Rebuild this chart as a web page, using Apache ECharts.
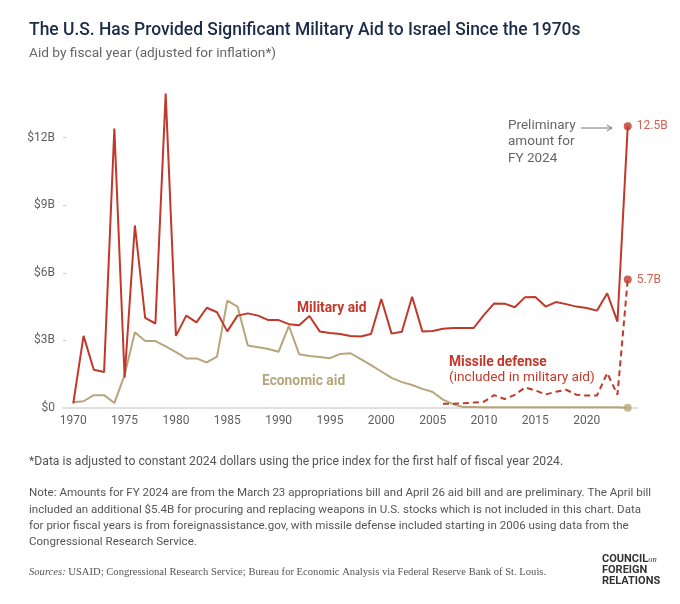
<!DOCTYPE html>
<html>
<head>
<meta charset="utf-8">
<script src="https://cdn.jsdelivr.net/npm/echarts@6/dist/echarts.min.js"></script>
<style>
  html, body { margin: 0; padding: 0; background: #fff; }
  #chart { width: 680px; height: 604px; }
</style>
</head>
<body>
<div id="chart"></div>
<script>
// fiscal years shown on the chart
const years = [];
for (let y = 1970; y <= 2024; y++) years.push(y);

// military aid, $B (constant 2024 dollars)
const military = [
  0.2, 3.2, 1.7, 1.6, 12.4, 1.35, 8.1, 4.0, 3.75, 13.95,
  3.2, 4.1, 3.8, 4.45, 4.25, 3.4, 4.1, 4.2, 4.1, 3.9,
  3.9, 3.72, 3.67, 4.08, 3.4, 3.33, 3.28, 3.2, 3.17, 3.28,
  4.84, 3.3, 3.38, 4.94, 3.4, 3.42, 3.52, 3.55, 3.55, 3.55,
  4.13, 4.64, 4.63, 4.47, 4.92, 4.93, 4.5, 4.7, 4.61, 4.5,
  4.44, 4.32, 5.09, 3.83, 12.5
];

// economic aid, $B
const economic = [
  0.25, 0.3, 0.57, 0.57, 0.22, 1.47, 3.36, 2.97, 2.97, 2.73,
  2.48, 2.2, 2.2, 2.02, 2.28, 4.76, 4.5, 2.77, 2.7, 2.62,
  2.5, 3.64, 2.39, 2.31, 2.26, 2.21, 2.4, 2.43, 2.17, 1.9,
  1.62, 1.34, 1.15, 1.02, 0.85, 0.71, 0.37, 0.17, 0.04, 0.04,
  0.03, 0.03, 0.03, 0.03, 0.03, 0.03, 0.03, 0.03, 0.03, 0.03,
  0.03, 0.03, 0.03, 0.03, 0.01
];

// missile defense (included in military aid), from 2006
const missileYears = [];
for (let y = 2006; y <= 2024; y++) missileYears.push(y);
const missile = [
  0.19, 0.19, 0.21, 0.24, 0.28, 0.57, 0.4, 0.58, 0.91, 0.78,
  0.6, 0.72, 0.81, 0.59, 0.55, 0.55, 1.55, 0.59, 5.7
];

const xTicks = [1970, 1975, 1980, 1985, 1990, 1995, 2000, 2005, 2010, 2015, 2020];
const yTicks = [0, 3, 6, 9, 12];
const yTickLabels = ['$0', '$3B', '$6B', '$9B', '$12B'];

const RED = '#C0392B';
const TAN = '#B7A67B';
const GRAY = '#5f5f5f';
const FONT = 'Roboto, "Noto Sans", sans-serif';

const pairs = (xs, vs) => xs.map((x, i) => [x, vs[i]]);
const last = (xs, vs) => [xs[xs.length - 1], vs[vs.length - 1]];

const chart = echarts.init(document.getElementById('chart'), null, { renderer: 'canvas' });

chart.setOption({
  backgroundColor: '#fff',
  animation: false,
  textStyle: { fontFamily: FONT },
  grid: { left: 63, right: 42, top: 70, bottom: 196 },
  xAxis: {
    type: 'value',
    min: 1969,
    max: 2025,
    splitLine: { show: false },
    axisLine: { show: true, lineStyle: { color: '#d6d6d6', width: 1.5 } },
    axisTick: { show: false },
    axisLabel: {
      customValues: xTicks,
      color: GRAY,
      fontSize: 12,
      margin: 7,
      fontFamily: FONT,
      formatter: v => String(v)
    }
  },
  yAxis: {
    type: 'value',
    min: 0,
    max: 15,
    splitLine: { show: false },
    axisLine: { show: false },
    axisTick: {
      show: true,
      inside: true,
      length: 3,
      customValues: yTicks.slice(1),
      lineStyle: { color: '#c8c8c8' }
    },
    axisLabel: {
      customValues: yTicks,
      color: GRAY,
      fontSize: 12,
      margin: 8,
      fontFamily: FONT,
      formatter: v => yTickLabels[yTicks.indexOf(v)]
    }
  },
  series: [
    {
      name: 'Economic aid',
      type: 'line',
      data: pairs(years, economic),
      symbol: 'none',
      lineStyle: { color: TAN, width: 2 },
      z: 2
    },
    {
      name: 'Missile defense',
      type: 'line',
      data: pairs(missileYears, missile),
      symbol: 'none',
      lineStyle: { color: RED, width: 2, type: [6, 4] },
      z: 3
    },
    {
      name: 'Military aid',
      type: 'line',
      data: pairs(years, military),
      symbol: 'none',
      lineStyle: { color: RED, width: 2 },
      z: 4
    },
    {
      name: 'FY 2024',
      type: 'scatter',
      symbol: 'circle',
      symbolSize: 8,
      z: 5,
      data: [
        { value: last(years, military), itemStyle: { color: RED },
          label: { show: true, position: 'right', distance: 5, color: RED, fontSize: 12,
                   formatter: p => p.value[1] + 'B' } },
        { value: last(missileYears, missile), itemStyle: { color: RED },
          label: { show: true, position: 'right', distance: 5, color: RED, fontSize: 12,
                   formatter: p => p.value[1] + 'B' } },
        { value: last(years, economic), itemStyle: { color: TAN } }
      ]
    }
  ],
  graphic: [
    { type: 'text', x: 29, y: 31, style: { text: 'The U.S. Has Provided Significant Military Aid to Israel Since the 1970s',
      fill: '#1c2b48', font: '500 17.45px ' + FONT, verticalAlign: 'middle' } },
    { type: 'text', x: 29, y: 54, style: { text: 'Aid by fiscal year (adjusted for inflation*)',
      fill: '#666', font: '13.7px ' + FONT, verticalAlign: 'middle' } },

    { type: 'text', x: 297, y: 309, style: { text: 'Military aid', fill: RED,
      font: 'bold 13.8px ' + FONT, verticalAlign: 'middle' } },
    { type: 'text', x: 262, y: 382, style: { text: 'Economic aid', fill: TAN,
      font: 'bold 13.8px ' + FONT, verticalAlign: 'middle' } },
    { type: 'text', x: 449, y: 363, style: { text: 'Missile defense', fill: RED,
      font: 'bold 13.8px ' + FONT, verticalAlign: 'middle' } },
    { type: 'text', x: 449, y: 378, style: { text: '(included in military aid)', fill: RED,
      font: '13.7px ' + FONT, verticalAlign: 'middle' } },

    { type: 'text', x: 508, y: 117, style: { text: 'Preliminary\namount for\nFY 2024', fill: '#666',
      font: '13.5px ' + FONT, lineHeight: 16.5, verticalAlign: 'top' } },
    { type: 'polyline', shape: { points: [[581, 128], [612, 128]] }, style: { stroke: '#777', lineWidth: 1, fill: null } },
    { type: 'polyline', shape: { points: [[607, 125], [612, 128], [607, 131]] }, style: { stroke: '#777', lineWidth: 1, fill: null } },

    { type: 'text', x: 29, y: 462, style: { text: '*Data is adjusted to constant 2024 dollars using the price index for the first half of fiscal year 2024.',
      fill: '#555', font: '12.2px ' + FONT, verticalAlign: 'middle' } },
    { type: 'text', x: 29, y: 485.5, style: {
      text: 'Note: Amounts for FY 2024 are from the March 23 appropriations bill and April 26 aid bill and are preliminary. The April bill\n' +
            'included an additional $5.4B for procuring and replacing weapons in U.S. stocks which is not included in this chart. Data\n' +
            'for prior fiscal years is from foreignassistance.gov, with missile defense included starting in 2006 using data from the\n' +
            'Congressional Research Service.',
      fill: '#555', font: '11.55px ' + FONT, lineHeight: 16.1, verticalAlign: 'top' } },
    { type: 'text', x: 29, y: 572, style: {
      text: '{i|Sources:} USAID; Congressional Research Service; Bureau for Economic Analysis via Federal Reserve Bank of St. Louis.',
      fill: '#555', font: '10.6px "Liberation Serif", serif', verticalAlign: 'middle',
      rich: { i: { fontStyle: 'italic', fontFamily: '"Liberation Serif", serif', fontSize: 10.6, fill: '#555' } } } },

    { type: 'text', x: 602, y: 554, style: { text: 'COUNCIL{o|on}\nFOREIGN\nRELATIONS', fill: '#333',
      font: 'bold 11px ' + FONT, lineHeight: 11, verticalAlign: 'top',
      rich: { o: { fontStyle: 'italic', fontFamily: '"Liberation Serif", serif', fontSize: 8.5, fill: '#333' } } } }
  ]
});
</script>
</body>
</html>
